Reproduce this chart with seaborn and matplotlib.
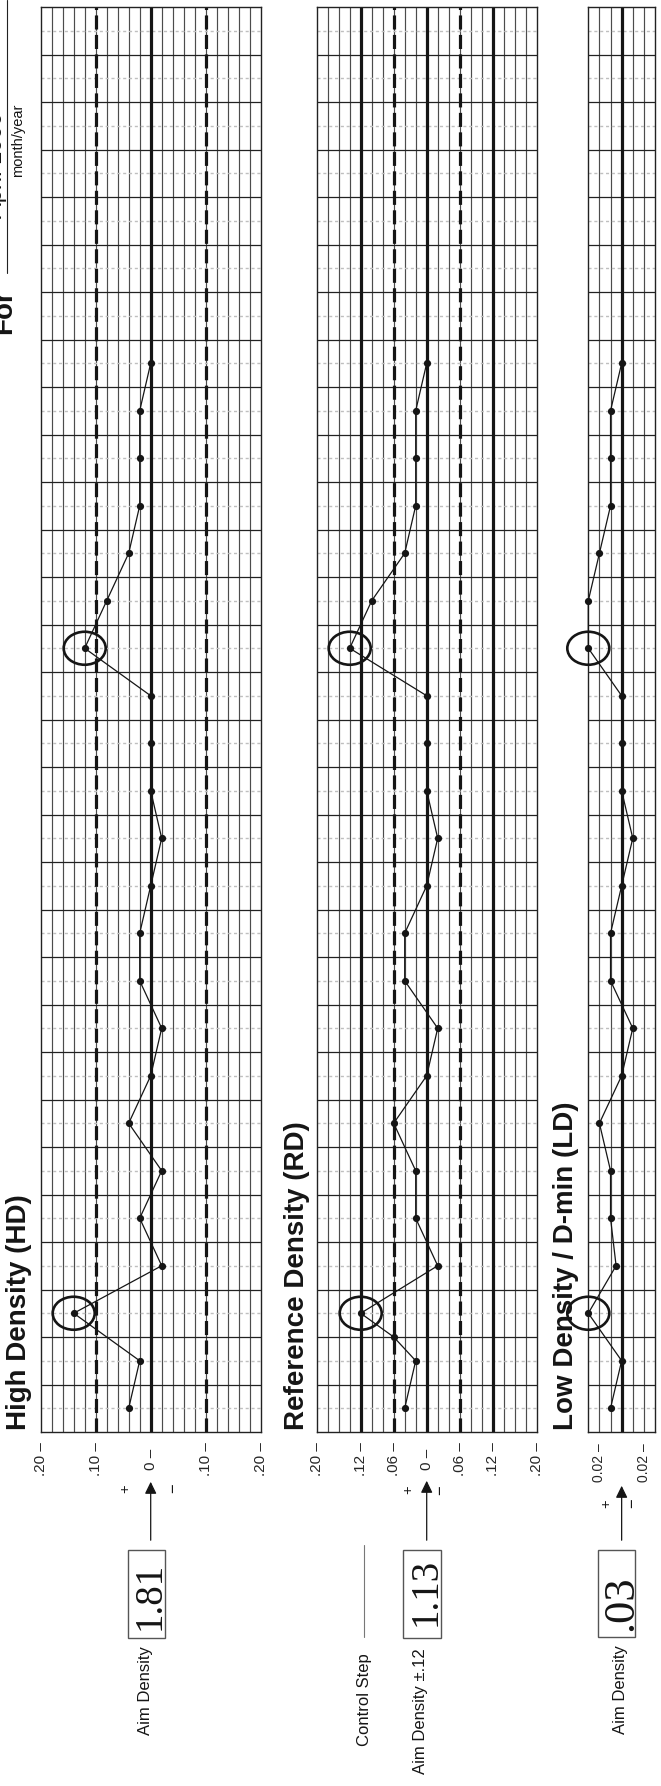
import matplotlib
matplotlib.use("Agg")
import matplotlib.pyplot as plt
import matplotlib.patches as mpatches
from matplotlib.lines import Line2D
import seaborn as sns
import numpy as np

# ---- data (deviation from aim, one reading per row, oldest at bottom) ----
rows = list(range(1, 24))
hd_dev = [0.04, 0.02, 0.14, -0.02, 0.02, -0.02, 0.04, 0.00, -0.02, 0.02, 0.02, 0.00,
          -0.02, 0.00, 0.00, 0.00, 0.12, 0.08, 0.04, 0.02, 0.02, 0.02, 0.00]
rd_rows = [1, 2, 2.5] + list(range(3, 24))
rd_dev = [0.04, 0.02, 0.06, 0.12, -0.02, 0.02, 0.02, 0.06, 0.00, -0.02, 0.04, 0.04,
          0.00, -0.02, 0.00, 0.00, 0.00, 0.14, 0.10, 0.04, 0.02, 0.02, 0.02, 0.00]
ld_dev = [0.01, 0.00, 0.03, 0.005, 0.01, 0.01, 0.02, 0.00, -0.01, 0.01, 0.01, 0.00,
          -0.01, 0.00, 0.00, 0.00, 0.03, 0.03, 0.02, 0.01, 0.01, 0.01, 0.00]
circled_rows = [3, 17]

hd_ticks = [0.20, 0.10, 0.0, -0.10, -0.20]
hd_tick_labels = [".20 –", ".10 –", "0 –", ".10 –", ".20 –"]
rd_ticks = [0.20, 0.12, 0.06, 0.0, -0.06, -0.12, -0.20]
rd_tick_labels = [".20 –", ".12 –", ".06 –", "0 –", ".06 –", ".12 –", ".20 –"]
ld_ticks = [0.02, -0.02]
ld_tick_labels = ["0.02 –", "0.02 –"]

W, H = 661, 1786
N_ROWS = 30

sns.set_style("white")
plt.rcParams["font.family"] = ["Liberation Sans", "DejaVu Sans"]

fig = plt.figure(figsize=(W / 100, H / 100), dpi=100)


def fx(px):
    return px / W


def fy(py):
    return 1 - py / H


def panel(left, width, lim, step, x, y, dashed, solid, ticks, labels,
          tick_size, tick_pad):
    ax = fig.add_axes([fx(left), fy(1432), width / W, 1425 / H])
    ax.set_xlim(lim, -lim)
    ax.set_ylim(0.5, N_ROWS + 0.5)
    for v in np.linspace(-lim, lim, int(round(2 * lim / step)) + 1)[1:-1]:
        ax.axvline(v, color="#4c4c4c", lw=0.85, zorder=1)
    for k in range(1, N_ROWS):
        ax.axhline(k + 0.5, color="#222222", lw=0.9, zorder=1)
    for k in range(1, N_ROWS + 1):
        ax.axhline(k, color="#bfbfbf", lw=1.0, ls=(0, (2.2, 2.0)), zorder=1)
    ax.axvline(0, color="#151515", lw=2.3, zorder=2)
    for v in dashed:
        ax.axvline(v, color="#151515", lw=2.3, ls=(0, (4.4, 1.7)), zorder=2)
    for v in solid:
        ax.axvline(v, color="#151515", lw=2.3, zorder=2)

    sns.lineplot(x=x, y=y, sort=False, estimator=None, ax=ax, color="#151515",
                 lw=0.9, marker="o", markersize=5.2, markeredgewidth=0, zorder=4,
                 clip_on=False)

    px_unit = width / (2 * lim)
    for r in circled_rows:
        val = x[list(y).index(r)]
        ax.add_patch(mpatches.Ellipse((val, r), width=42 / px_unit, height=33 / 47.5,
                                      fill=False, lw=1.9, ec="#151515", zorder=5,
                                      clip_on=False))

    ax.set_xticks(ticks)
    ax.set_xticklabels(labels, rotation=90, fontsize=tick_size)
    plt.setp(ax.get_xticklabels(), va="center", ha="center")
    ax.tick_params(axis="x", length=0, pad=tick_pad)
    ax.set_yticks([])
    ax.set_xlabel("")
    ax.set_ylabel("")
    for s in ax.spines.values():
        s.set_color("#222222")
        s.set_linewidth(1.0)
    return ax


ax_hd = panel(40.7, 220, 0.20, 0.02, hd_dev, rows, [0.10, -0.10], [],
              hd_ticks, hd_tick_labels, 11, 19.4)
ax_rd = panel(316.7, 220, 0.20, 0.02, rd_dev, rd_rows, [0.06, -0.06], [0.12, -0.12],
              rd_ticks, rd_tick_labels, 11, 19.4)
ax_ld = panel(588.3, 66.7, 0.03, 0.01, ld_dev, rows, [], [],
              ld_ticks, ld_tick_labels, 10, 22.3)

# panel titles
for cx, title in [(19, "High Density (HD)"), (297.5, "Reference Density (RD)"),
                  (566, "Low Density / D-min (LD)")]:
    fig.text(fx(cx), fy(1430), title, rotation=90, ha="center", va="bottom",
             fontsize=20, fontweight="bold", color="#151515")

# header: For ____ month/year
fig.text(fx(4.5), fy(334), "For", rotation=90, ha="center", va="bottom",
         fontsize=20, fontweight="bold", color="#151515")
fig.text(fx(-4), fy(218), "April 1999", rotation=90, ha="center", va="bottom",
         fontsize=17, color="#151515")
fig.add_artist(Line2D([fx(7.3), fx(7.3)], [fy(0), fy(273)], color="#222222", lw=0.8))
fig.text(fx(18), fy(140), "month/year", rotation=90, ha="center", va="center",
         fontsize=10.5, color="#151515")

# aim-density arrows, signs, boxes
for ax, tip, plus, minus in [(ax_hd, 1479, (125, 1489), (174, 1488)),
                             (ax_rd, 1478, (408.3, 1490), (441, 1490)),
                             (ax_ld, 1483, (606.7, 1504), (633, 1503))]:
    ax.annotate("", xy=(0, fy(tip)), xytext=(0, fy(1543)),
                xycoords=(ax.transData, fig.transFigure),
                textcoords=(ax.transData, fig.transFigure),
                arrowprops=dict(arrowstyle="-|>,head_length=0.45,head_width=0.22",
                                mutation_scale=16, color="#151515", lw=0.9),
                annotation_clip=False)
    fig.text(fx(plus[0]), fy(plus[1]), "+", rotation=90, ha="center", va="center",
             fontsize=10.5, color="#151515")
    fig.text(fx(minus[0]), fy(minus[1]), "−", rotation=90, ha="center", va="center",
             fontsize=12, color="#151515")

for x0, x1, y0, y1, txt, tx, ty, size in [
        (127.7, 165, 1550, 1638, "1.81", 150.5, 1596, 28),
        (403, 441, 1550, 1638, "1.13", 426, 1592, 28),
        (597.7, 635, 1550, 1637, ".03", 621, 1603, 32)]:
    fig.add_artist(mpatches.Rectangle((fx(x0), fy(y1)), (x1 - x0) / W, (y1 - y0) / H,
                                      transform=fig.transFigure, fill=False,
                                      ec="#555555", lw=1.0))
    fig.text(fx(tx), fy(ty), txt, rotation=90, ha="center", va="center",
             fontsize=size, family="Liberation Serif", color="#151515")

fig.text(fx(145.7), fy(1646), "Aim Density", rotation=90, ha="center", va="top",
         fontsize=12, color="#151515")
fig.text(fx(421), fy(1648), "Aim Density ±.12", rotation=90, ha="center", va="top",
         fontsize=12, color="#151515")
fig.text(fx(620), fy(1645), "Aim Density", rotation=90, ha="center", va="top",
         fontsize=12, color="#151515")
fig.text(fx(364), fy(1653), "Control Step", rotation=90, ha="center", va="top",
         fontsize=12, color="#151515")
fig.add_artist(Line2D([fx(364), fx(364)], [fy(1545), fy(1637)], color="#777777", lw=0.8))

fig.savefig("out.png", dpi=100, facecolor="white")
